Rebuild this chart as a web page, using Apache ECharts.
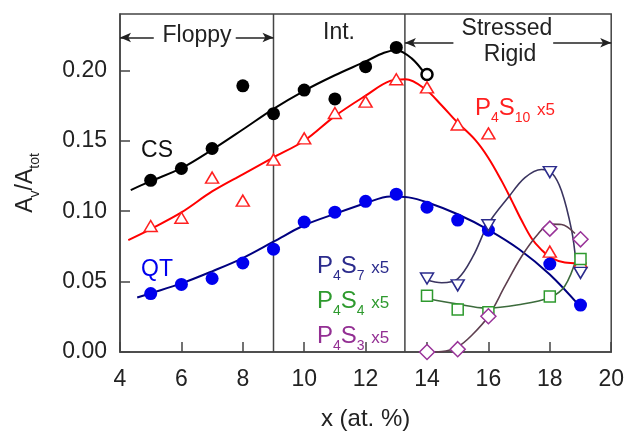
<!DOCTYPE html>
<html><head><meta charset="utf-8">
<script src="https://cdn.jsdelivr.net/npm/echarts@6/dist/echarts.min.js"></script>
<style>html,body{margin:0;padding:0;background:#fff}#c{width:627px;height:436px}</style>
</head><body><div id="c"></div>
<script>
const FONT = 'Liberation Sans, Arial, sans-serif';

const csX = [5, 6, 7, 8, 9, 10, 11, 12, 13];
const csY = [0.1219, 0.1303, 0.1445, 0.189, 0.1692, 0.186, 0.1797, 0.2026, 0.2163];
const csOpenX = [14];
const csOpenY = [0.197];

const p4s10X = [5, 6, 7, 8, 9, 10, 11, 12, 13, 14, 15, 16, 18, 19];
const p4s10Y = [0.0895, 0.0953, 0.1238, 0.1075, 0.1366, 0.1517, 0.1697, 0.1778, 0.1937, 0.1879, 0.1615, 0.1552, 0.0713, 0.0638];

const qtX = [5, 6, 7, 8, 9, 10, 11, 12, 13, 14, 15, 16, 18, 19];
const qtY = [0.0415, 0.048, 0.0522, 0.0632, 0.073, 0.0923, 0.0993, 0.107, 0.1121, 0.1028, 0.0937, 0.0865, 0.0625, 0.0333];

const p4s7X = [14, 15, 16, 18, 19];
const p4s7Y = [0.0522, 0.0473, 0.0900, 0.1277, 0.0562];

const p4s4X = [14, 15, 16, 18, 19];
const p4s4Y = [0.0399, 0.0301, 0.0282, 0.0394, 0.066];

const p4s3X = [14, 15, 16, 18, 19];
const p4s3Y = [0.0, 0.002, 0.0254, 0.0876, 0.080];

// ---- fitted curves ----
const csFitX = [4.35, 5, 6, 7, 8, 9, 10, 11, 12, 12.6, 13, 13.5, 13.95];
const csFitY = [0.115, 0.1213, 0.1305, 0.1436, 0.158, 0.1727, 0.1855, 0.1965, 0.2063, 0.2125, 0.2143, 0.2085, 0.197];

const p4s10FitX = [4.27, 5, 6, 7, 8, 9, 10, 11, 12, 12.8, 13.3, 13.94, 14.48, 14.97, 15.57, 16, 16.43, 16.76, 17.08, 17.41, 17.73, 18.06, 18.49, 18.93, 19.2];
const p4s10FitY = [0.0795, 0.0873, 0.0991, 0.1140, 0.1262, 0.1382, 0.1500, 0.1675, 0.182, 0.1925, 0.1937, 0.1867, 0.175, 0.1634, 0.1506, 0.1378, 0.1215, 0.1075, 0.0935, 0.0806, 0.0725, 0.0666, 0.0636, 0.0631, 0.0631];

const qtFitX = [4.56, 5, 6, 7, 8, 9, 10, 11, 12, 12.8, 13.4, 14, 15, 16, 17, 18, 18.96];
const qtFitY = [0.0387, 0.0417, 0.0487, 0.0573, 0.0667, 0.0783, 0.09, 0.0981, 0.1056, 0.1105, 0.1098, 0.1063, 0.0978, 0.0868, 0.0730, 0.055, 0.0329];

const p4s7FitX = [13.96, 14.48, 15, 15.5, 16, 16.65, 17.19, 17.73, 18.06, 18.38, 18.71, 18.85];
const p4s7FitY = [0.0515, 0.0492, 0.052, 0.068, 0.0911, 0.1098, 0.1238, 0.1296, 0.1273, 0.1145, 0.0865, 0.064];

const p4s4FitX = [13.96, 15, 15.92, 16.98, 18, 18.49, 18.87];
const p4s4FitY = [0.0382, 0.034, 0.0312, 0.0336, 0.0387, 0.0469, 0.0667];

const p4s3FitX = [13.96, 14.48, 15, 15.46, 16, 16.54, 17.08, 17.63, 18.0, 18.38, 18.82];
const p4s3FitY = [0.0, 0.0003, 0.0037, 0.0119, 0.0254, 0.0469, 0.0678, 0.0841, 0.0908, 0.0905, 0.0841];

// ---- regime boundaries and arrows ----
const boundaries = [9, 13.28];
const floppyArrowY = 0.2233;
const rigidArrowY = 0.2196;
const floppyArrows = [[5.1, 4.0], [7.77, 9.0]];      // [tail, head]
const rigidArrows = [[14.86, 13.28], [18.11, 20.0]]; // [tail, head]

const xMin = 4, xMax = 20, xStep = 2;
const yMin = 0, yMax = 0.24, yStep = 0.05;

const zip = (xs, ys) => xs.map((x, i) => [x, ys[i]]);

const AX = '#444';

function fit(name, xs, ys, color, width) {
  return { type: 'line', name, data: zip(xs, ys), smooth: 0.35, symbol: 'none', silent: true,
    lineStyle: { color, width }, z: 2, animation: false };
}
function pts(name, xs, ys, symbol, size, fill, stroke, bw, rot) {
  return { type: 'scatter', name, data: zip(xs, ys), symbol, symbolSize: size, symbolRotate: rot || 0,
    itemStyle: { color: fill, borderColor: stroke, borderWidth: bw, opacity: 1 }, z: 3, animation: false, silent: true };
}

const arrowLines = [];
floppyArrows.forEach(a => arrowLines.push([{ coord: [a[0], floppyArrowY] }, { coord: [a[1], floppyArrowY] }]));
rigidArrows.forEach(a => arrowLines.push([{ coord: [a[0], rigidArrowY] }, { coord: [a[1], rigidArrowY] }]));

const series = [];
boundaries.forEach((b, i) => {
  series.push({ type: 'line', data: [[b, yMin], [b, yMax]], symbol: 'none', silent: true, animation: false,
    lineStyle: { color: AX, width: 1.5 }, z: 1,
    markLine: i === 0 ? { silent: true, animation: false, symbol: ['none', 'arrow'], symbolSize: [7, 11],
      label: { show: false }, lineStyle: { color: '#222', width: 1.5, type: 'solid' }, data: arrowLines } : undefined });
});
series.push(fit('CS fit', csFitX, csFitY, '#000000', 2));
series.push(fit('P4S10 fit', p4s10FitX, p4s10FitY, '#ff0000', 2));
series.push(fit('QT fit', qtFitX, qtFitY, '#000080', 2));
series.push(fit('P4S7 fit', p4s7FitX, p4s7FitY, '#3b3560', 1.6));
series.push(fit('P4S4 fit', p4s4FitX, p4s4FitY, '#3c6b3c', 1.6));
series.push(fit('P4S3 fit', p4s3FitX, p4s3FitY, '#5e3f4f', 1.6));

series.push(pts('CS', csX, csY, 'circle', 13, '#000', '#000', 0));
series.push(pts('CS open', csOpenX, csOpenY, 'circle', 11, '#fff', '#000', 2.5));
series.push(pts('P4S10', p4s10X, p4s10Y, 'triangle', [13, 11], '#fff', '#ff2020', 1.5));
series.push(pts('QT', qtX, qtY, 'circle', 13, '#0000ee', '#0000ee', 0));
series.push(pts('P4S7', p4s7X, p4s7Y, 'triangle', [13, 11], '#fff', '#2b2b8c', 1.5, 180));
series.push(pts('P4S4', p4s4X, p4s4Y, 'rect', 11, '#fff', '#2e9a2e', 1.5));
series.push(pts('P4S3', p4s3X, p4s3Y, 'diamond', 15, '#fff', '#993399', 1.5));

function txt(text, x, y, color, size, align, vAlign, rich, rotation) {
  return { type: 'text', x, y, rotation: rotation || 0, silent: true, z: 10,
    style: { text, fill: color, fontSize: size, fontFamily: FONT,
      align: align, verticalAlign: vAlign, textAlign: align, textVerticalAlign: vAlign, rich: rich } };
}
function subRich(color) {
  return {
    s: { fontSize: 14, fontFamily: FONT, fill: color, padding: [20, 0, 0, 0] },
    x: { fontSize: 17, fontFamily: FONT, fill: color, padding: [5, 0, 0, 0] }
  };
}

const chart = echarts.init(document.getElementById('c'), null, { renderer: 'canvas' });
chart.setOption({
  backgroundColor: '#fff',
  animation: false,
  grid: { left: 120, right: 15, top: 14, bottom: 79, show: true, borderColor: AX, borderWidth: 1.5, backgroundColor: 'transparent' },
  xAxis: {
    type: 'value', min: xMin, max: xMax, interval: xStep,
    name: 'x (at. %)', nameLocation: 'middle', nameGap: 55,
    nameTextStyle: { fontSize: 24, fontFamily: FONT, color: '#222' },
    axisLine: { lineStyle: { color: AX, width: 1.5 } },
    axisTick: { inside: true, length: 10, lineStyle: { color: AX, width: 1.5 } },
    axisLabel: { fontSize: 23, fontFamily: FONT, color: '#222', margin: 16 },
    splitLine: { show: false }
  },
  yAxis: {
    type: 'value', min: yMin, max: yMax, interval: yStep,
    name: 'A{s|v}/A{s|tot}', nameLocation: 'middle', nameGap: 78, nameRotate: 90,
    nameTextStyle: { fontSize: 23, fontFamily: FONT, color: '#222',
      rich: { s: { fontSize: 14, fontFamily: FONT, color: '#222', padding: [18, 0, 0, 0] } } },
    axisLine: { lineStyle: { color: AX, width: 1.5 } },
    axisTick: { inside: true, length: 10, lineStyle: { color: AX, width: 1.5 } },
    axisLabel: { fontSize: 23, fontFamily: FONT, color: '#222', margin: 13, showMaxLabel: false,
      formatter: v => (Math.abs(v / yStep - Math.round(v / yStep)) < 1e-6 ? v.toFixed(2) : '') },
    splitLine: { show: false }
  },
  series,
  graphic: [
    txt('Floppy', 197, 36, '#222', 23, 'center', 'middle'),
    txt('Int.', 339, 33, '#222', 23, 'center', 'middle'),
    txt('Stressed', 507, 29, '#222', 23, 'center', 'middle'),
    txt('Rigid', 510, 55, '#222', 23, 'center', 'middle'),
    txt('CS', 157, 151, '#111', 23, 'center', 'middle'),
    txt('QT', 157, 270, '#0000ee', 23, 'center', 'middle'),
    txt('P{s|4}S{s|10} {x|x5}', 475, 108, '#ff2020', 24, 'left', 'middle', subRich('#ff2020')),
    txt('P{s|4}S{s|7} {x|x5}', 317, 266, '#2b2b8c', 24, 'left', 'middle', subRich('#2b2b8c')),
    txt('P{s|4}S{s|4} {x|x5}', 317, 301, '#2e9a2e', 24, 'left', 'middle', subRich('#2e9a2e')),
    txt('P{s|4}S{s|3} {x|x5}', 317, 336, '#932f93', 24, 'left', 'middle', subRich('#932f93'))
  ]
});
</script>
</body></html>
